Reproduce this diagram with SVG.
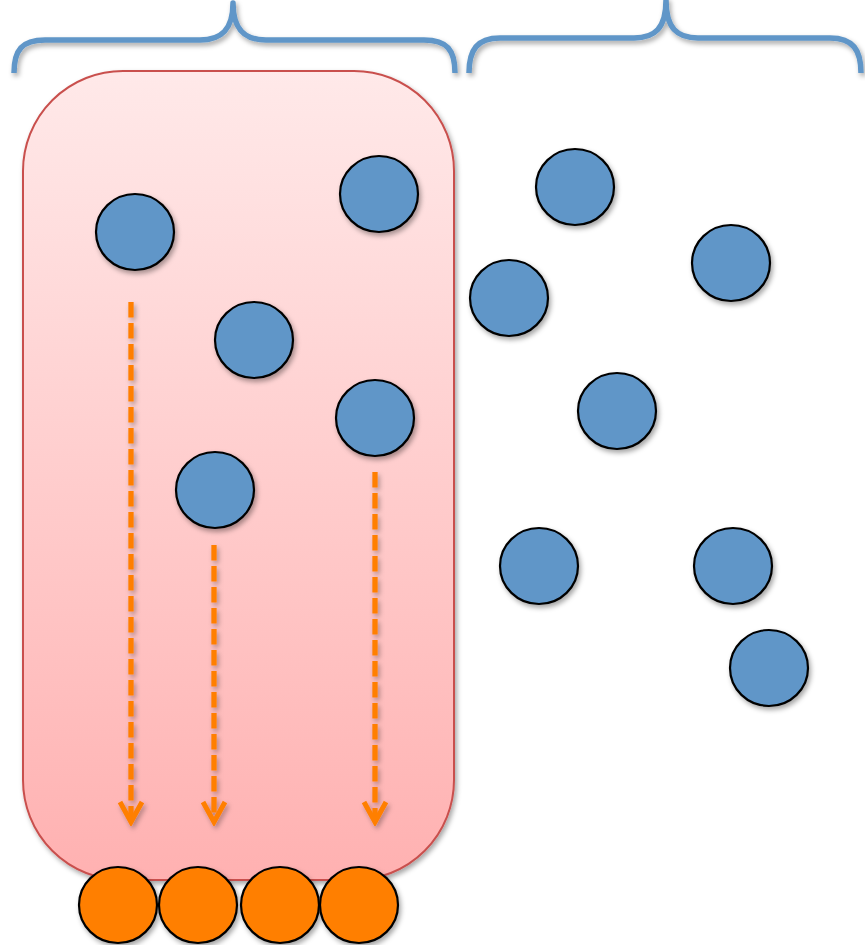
<svg xmlns="http://www.w3.org/2000/svg" width="865" height="945" viewBox="0 0 865 945">
<style>
.blue{fill:#6096C8;stroke:#000;stroke-width:2.2;filter:url(#sh)}
.orange{fill:#FF7F00;stroke:#000;stroke-width:2.2;filter:url(#sh)}
.brace{fill:none;stroke:#6096C8;stroke-width:5.5;stroke-linecap:butt;stroke-linejoin:round;filter:url(#sh)}
.arrow{fill:none;stroke:#FF7F00;stroke-width:5.3;stroke-dasharray:15.5 5.5}
</style>
<defs>
<linearGradient id="g" x1="0" y1="0" x2="0" y2="1">
<stop offset="0" stop-color="#FFE9E9"/>
<stop offset="1" stop-color="#FFB1B1"/>
</linearGradient>
<filter id="sh" x="-20%" y="-20%" width="150%" height="150%">
<feDropShadow dx="2" dy="3" stdDeviation="2.5" flood-color="#000" flood-opacity="0.35"/>
</filter>
<filter id="shu" filterUnits="userSpaceOnUse" x="0" y="0" width="865" height="945">
<feDropShadow dx="2" dy="3" stdDeviation="2.5" flood-color="#000" flood-opacity="0.3"/>
</filter>
<marker id="ah" markerUnits="userSpaceOnUse" viewBox="-26 -15 30 30" refX="0" refY="0" markerWidth="30" markerHeight="30" orient="auto">
<path d="M-20,-11 L0,0 L-20,11" fill="none" stroke="#FF7F00" stroke-width="5"/>
</marker>
</defs>
<g id="container">
<rect x="23" y="71" width="431" height="809" rx="100" ry="100" fill="url(#g)" stroke="#C9504D" stroke-width="2" filter="url(#sh)"/>
</g>
<g id="braces">
<path class="brace" d="M14,73 C14,50 22,40 45,40 L200,40 C221,40 233,30 233,3 C233,30 245,40 266,40 L424,40 C447,40 455,50 455,73"/>
<path class="brace" d="M469,73 C469,50 477,38 500,38 L634,38 C655,38 666,28 666,0 C666,28 677,38 698,38 L830,38 C853,38 861,50 861,73"/>
</g>
<g id="connectors" filter="url(#shu)">
<path class="arrow" d="M131,302 L131,822" marker-end="url(#ah)"/>
<path class="arrow" d="M214,545 L214,822" marker-end="url(#ah)"/>
<path class="arrow" d="M375,472 L375,822" marker-end="url(#ah)"/>
</g>
<g id="b1"><ellipse class="blue" cx="135" cy="232" rx="39" ry="38"/></g>
<g id="b2"><ellipse class="blue" cx="379" cy="194" rx="39" ry="38"/></g>
<g id="b3"><ellipse class="blue" cx="254" cy="340" rx="39" ry="38"/></g>
<g id="b4"><ellipse class="blue" cx="375" cy="418" rx="39" ry="38"/></g>
<g id="b5"><ellipse class="blue" cx="215" cy="490" rx="39" ry="38"/></g>
<g id="b6"><ellipse class="blue" cx="575" cy="187" rx="39" ry="38"/></g>
<g id="b7"><ellipse class="blue" cx="731" cy="263" rx="39" ry="38"/></g>
<g id="b8"><ellipse class="blue" cx="509" cy="298" rx="39" ry="38"/></g>
<g id="b9"><ellipse class="blue" cx="617" cy="411" rx="39" ry="38"/></g>
<g id="b10"><ellipse class="blue" cx="539" cy="566" rx="39" ry="38"/></g>
<g id="b11"><ellipse class="blue" cx="733" cy="566" rx="39" ry="38"/></g>
<g id="b12"><ellipse class="blue" cx="769" cy="668" rx="39" ry="38"/></g>
<g id="o1"><ellipse class="orange" cx="118" cy="905" rx="39" ry="38"/></g>
<g id="o2"><ellipse class="orange" cx="198" cy="905" rx="39" ry="38"/></g>
<g id="o3"><ellipse class="orange" cx="280" cy="905" rx="39" ry="38"/></g>
<g id="o4"><ellipse class="orange" cx="359" cy="905" rx="39" ry="38"/></g>
</svg>
